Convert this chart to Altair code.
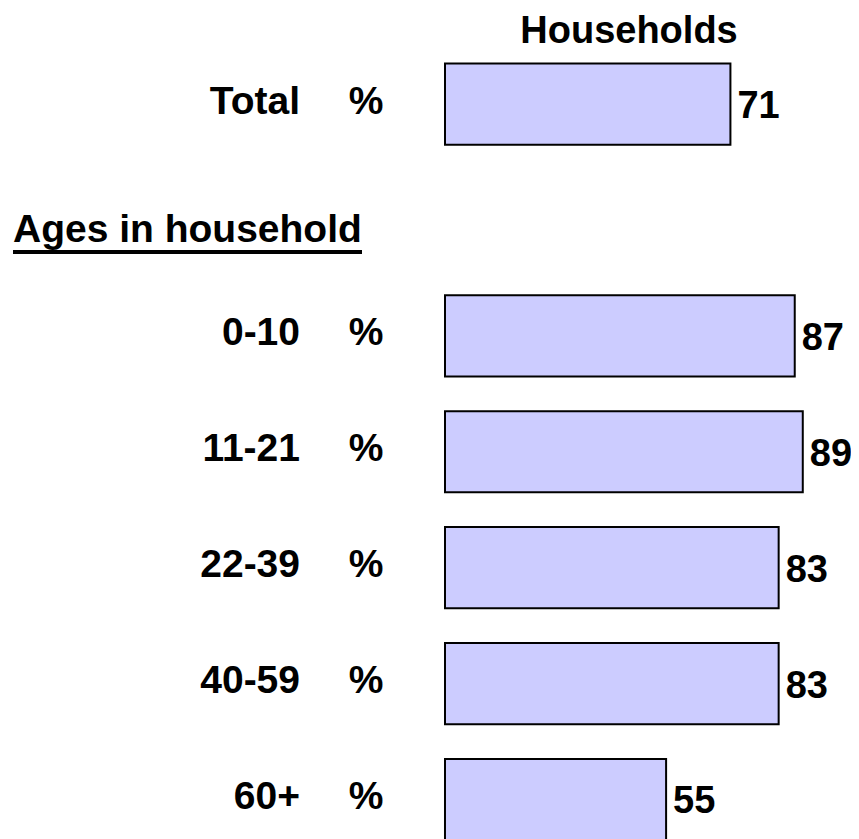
import altair as alt
import pandas as pd

# Data
categories = ["Total", "0-10", "11-21", "22-39", "40-59", "60+"]
values = [71, 87, 89, 83, 83, 55]
unit_labels = ["%"] * len(categories)
header_title = "Households"
section_title = "Ages in household"

# Row order with an empty slot where the section heading sits
row_order = ["Total", " ", "0-10", "11-21", "22-39", "40-59", "60+"]

df = pd.DataFrame({"cat": categories, "value": values, "unit": unit_labels})

FONT = "Liberation Sans, Arial, Helvetica, sans-serif"
FS = 39

yscale = alt.Scale(domain=row_order, range=[55.5, 55.5 + 115.9 * 6.7],
                   paddingInner=0.30, paddingOuter=0)
xscale = alt.Scale(domain=[0, 100], range=[437, 839], nice=False)

base = alt.Chart(df)

bars = base.mark_bar(fill="#CCCCFF", stroke="black", strokeWidth=2).encode(
    x=alt.X("value:Q", scale=xscale, axis=None),
    y=alt.Y("cat:N", scale=yscale, axis=None, sort=row_order),
)

nums = base.mark_text(font=FONT, fontSize=38, fontWeight="bold", align="left",
                      baseline="alphabetic", dx=7, dy=14, color="black").encode(
    x=alt.X("value:Q", scale=xscale, axis=None),
    y=alt.Y("cat:N", scale=yscale, axis=None, sort=row_order),
    text="value:Q",
)

cat_labels = base.mark_text(font=FONT, fontSize=FS, fontWeight="bold", align="right",
                            baseline="alphabetic", dy=9.5, color="black").encode(
    x=alt.value(292),
    y=alt.Y("cat:N", scale=yscale, axis=None, sort=row_order),
    text="cat:N",
)

pct = base.mark_text(font=FONT, fontSize=FS, fontWeight="bold", align="center",
                     baseline="alphabetic", dy=9.5, color="black").encode(
    x=alt.value(358),
    y=alt.Y("cat:N", scale=yscale, axis=None, sort=row_order),
    text="unit:N",
)

hdr_df = pd.DataFrame({"t": [header_title]})
header = alt.Chart(hdr_df).mark_text(font=FONT, fontSize=38, fontWeight="bold",
                                      align="center", baseline="alphabetic",
                                      color="black").encode(
    x=alt.value(621), y=alt.value(34.5), text="t:N"
)

sec_df = pd.DataFrame({"t": [section_title]})
section = alt.Chart(sec_df).mark_text(font=FONT, fontSize=FS, fontWeight="bold",
                                       align="left", baseline="alphabetic",
                                       color="black").encode(
    x=alt.value(5), y=alt.value(234), text="t:N"
)
underline = alt.Chart(sec_df).mark_rule(color="black", strokeWidth=4).encode(
    x=alt.value(5), x2=alt.value(354), y=alt.value(244)
)

chart = alt.layer(bars, nums, cat_labels, pct, header, section, underline).properties(
    width=843, height=831, padding=0, autosize=alt.AutoSizeParams(type="none"),
    background="white",
).configure_view(stroke=None)

chart.save("out.html", embed_options={"renderer": "svg", "actions": False})
